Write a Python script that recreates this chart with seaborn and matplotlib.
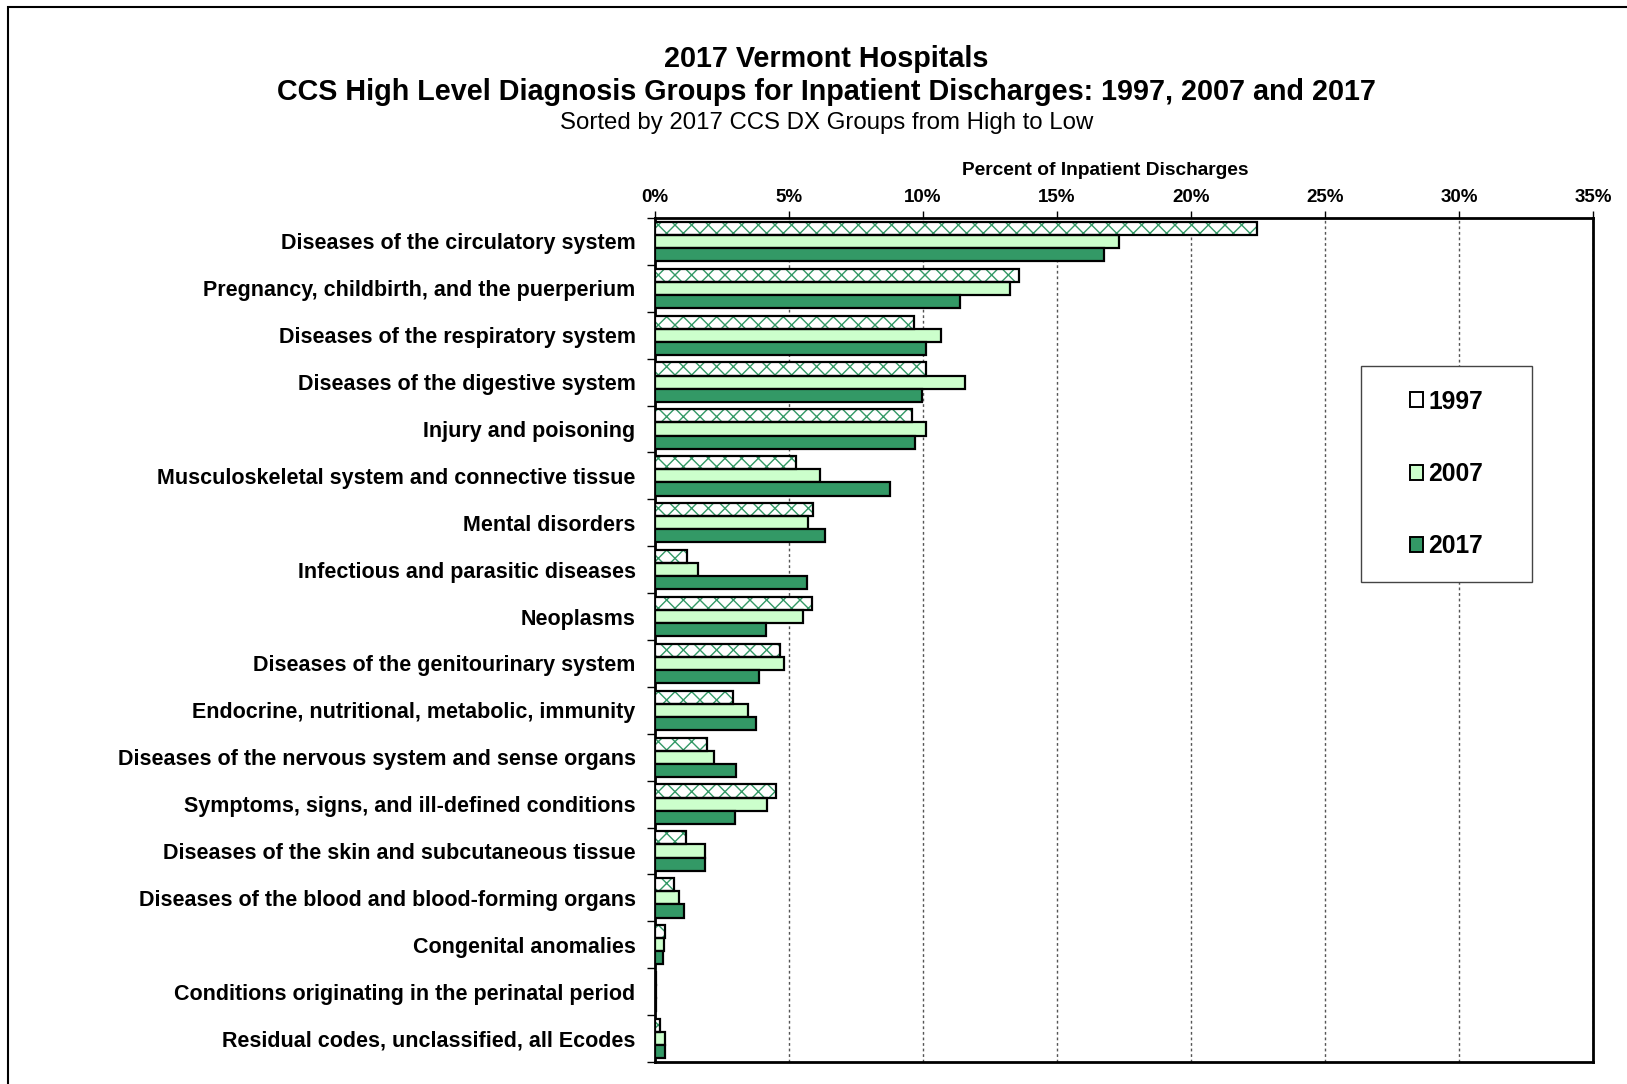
import pandas as pd
import numpy as np
import matplotlib.pyplot as plt
import matplotlib.ticker as mticker
from matplotlib.patches import Rectangle, Patch
from matplotlib.legend_handler import HandlerTuple
import seaborn as sns

categories = [
    "Diseases of the circulatory system",
    "Pregnancy, childbirth, and the puerperium",
    "Diseases of the respiratory system",
    "Diseases of the digestive system",
    "Injury and poisoning",
    "Musculoskeletal system and connective tissue",
    "Mental disorders",
    "Infectious and parasitic diseases",
    "Neoplasms",
    "Diseases of the genitourinary system",
    "Endocrine, nutritional, metabolic, immunity",
    "Diseases of the nervous system and sense organs",
    "Symptoms, signs, and ill-defined conditions",
    "Diseases of the skin and subcutaneous tissue",
    "Diseases of the blood and blood-forming organs",
    "Congenital anomalies",
    "Conditions originating in the perinatal period",
    "Residual codes, unclassified, all Ecodes",
]
years = ["1997", "2007", "2017"]

pct_1997 = [22.47, 13.57, 9.67, 10.13, 9.59, 5.26, 5.88, 1.20, 5.84, 4.68,
            2.90, 1.93, 4.52, 1.16, 0.70, 0.39, 0.05, 0.19]
pct_2007 = [17.32, 13.26, 10.67, 11.56, 10.13, 6.15, 5.72, 1.59, 5.53, 4.83,
            3.48, 2.20, 4.18, 1.86, 0.89, 0.35, 0.05, 0.39]
pct_2017 = [16.74, 11.37, 10.13, 9.98, 9.71, 8.78, 6.34, 5.68, 4.14, 3.87,
            3.75, 3.02, 2.98, 1.86, 1.08, 0.31, 0.05, 0.39]

df = pd.DataFrame({
    "category": categories * 3,
    "year": np.repeat(years, len(categories)),
    "pct": pct_1997 + pct_2007 + pct_2017,
})

sns.set_style("white")
plt.rcParams["font.family"] = ["Liberation Sans", "DejaVu Sans"]
plt.rcParams["hatch.linewidth"] = 1.0
for k in ["text.color", "axes.labelcolor", "xtick.color", "ytick.color"]:
    plt.rcParams[k] = "black"

fill_colors = {"1997": "#FFFFFF", "2007": "#CCFFCC", "2017": "#339966"}
hatch_green = "#339966"

fig = plt.figure(figsize=(16.27, 10.84), dpi=100)
ax = fig.add_axes([655 / 1627, 1 - 1062 / 1084, (1593 - 655) / 1627, (1062 - 218) / 1084])

sns.barplot(data=df, y="category", x="pct", hue="year", order=categories,
            hue_order=years, palette=fill_colors, orient="h", width=0.84,
            gap=0, edgecolor="black", linewidth=1.6, saturation=1,
            legend=False, ax=ax, zorder=3)

# green crosshatch for the 1997 bars: hatch drawn by a green edge, black outline on top
for b in ax.containers[0]:
    b.set_hatch("xx")
    b.set_edgecolor(hatch_green)
    b.set_linewidth(0)
    ax.add_patch(Rectangle(b.get_xy(), b.get_width(), b.get_height(), fill=False,
                           edgecolor="black", linewidth=1.6, zorder=4))

ax.set_xlim(0, 35)
ax.set_ylim(len(categories) - 0.5, -0.5)
ax.xaxis.set_major_locator(mticker.MultipleLocator(5))
ax.xaxis.set_major_formatter(mticker.FuncFormatter(lambda v, p: f"{v:.0f}%"))
ax.xaxis.tick_top()
ax.xaxis.set_label_position("top")
ax.set_xlabel("Percent of Inpatient Discharges", fontsize=13.8, fontweight="bold", labelpad=10)
ax.xaxis.label.set_x(0.48)
ax.set_ylabel("")
ax.tick_params(axis="x", top=True, length=5, width=1, direction="out", labelsize=13.5, pad=4)
for t in ax.get_xticklabels():
    t.set_fontweight("bold")

ax.tick_params(axis="y", which="major", length=0, labelsize=15.5, pad=14)
for t in ax.get_yticklabels():
    t.set_fontweight("bold")
ax.set_yticks(np.arange(len(categories) + 1) - 0.5, minor=True)
ax.tick_params(axis="y", which="minor", left=True, length=6, width=1, direction="out")

ax.grid(axis="x", color="#555555", linestyle=(0, (2, 2)), linewidth=1, zorder=0)
ax.set_axisbelow(True)
for s in ax.spines.values():
    s.set_visible(True)
    s.set_color("black")
    s.set_linewidth(2)

# legend: own frame box, entries inside it
box_l, box_r, box_t, box_b = 1361, 1532, 366, 582
fig.patches.append(Rectangle((box_l / 1627, 1 - box_b / 1084), (box_r - box_l) / 1627,
                             (box_b - box_t) / 1084, transform=fig.transFigure,
                             facecolor="white", edgecolor="#444444", linewidth=1, zorder=5))
h1997 = (Patch(facecolor="white", edgecolor=hatch_green, linewidth=0, hatch="x"),
         Patch(fill=False, edgecolor="black", linewidth=1.4))
handles = [h1997] + [Patch(facecolor=fill_colors[y], edgecolor="black", linewidth=1.4)
                     for y in years[1:]]
leg = fig.legend(handles, years, loc="center",
                 bbox_to_anchor=((box_l + box_r) / 2 / 1627, 1 - (box_t + box_b) / 2 / 1084),
                 frameon=False, handlelength=0.55, handleheight=0.55, handletextpad=0.2,
                 labelspacing=1.97, borderpad=0, prop={"weight": "bold", "size": 17.7},
                 handler_map={tuple: HandlerTuple(ndivide=1, pad=0)})
leg.set_zorder(6)

fig.text(0.508, 1 - 59 / 1084, "2017 Vermont Hospitals", ha="center", va="center",
         fontsize=20.7, fontweight="bold")
fig.text(0.508, 1 - 92 / 1084,
         "CCS High Level Diagnosis Groups for Inpatient Discharges: 1997, 2007 and 2017",
         ha="center", va="center", fontsize=20.7, fontweight="bold")
fig.text(0.508, 1 - 123 / 1084, "Sorted by 2017 CCS DX Groups from High to Low",
         ha="center", va="center", fontsize=17.3)

# outer chart frame
fig.patches.append(Rectangle((8 / 1627, -0.01), 1.02, 1 - 7 / 1084 + 0.01,
                             transform=fig.transFigure, fill=False,
                             edgecolor="black", linewidth=1.5))

fig.savefig("out.png", dpi=100)
